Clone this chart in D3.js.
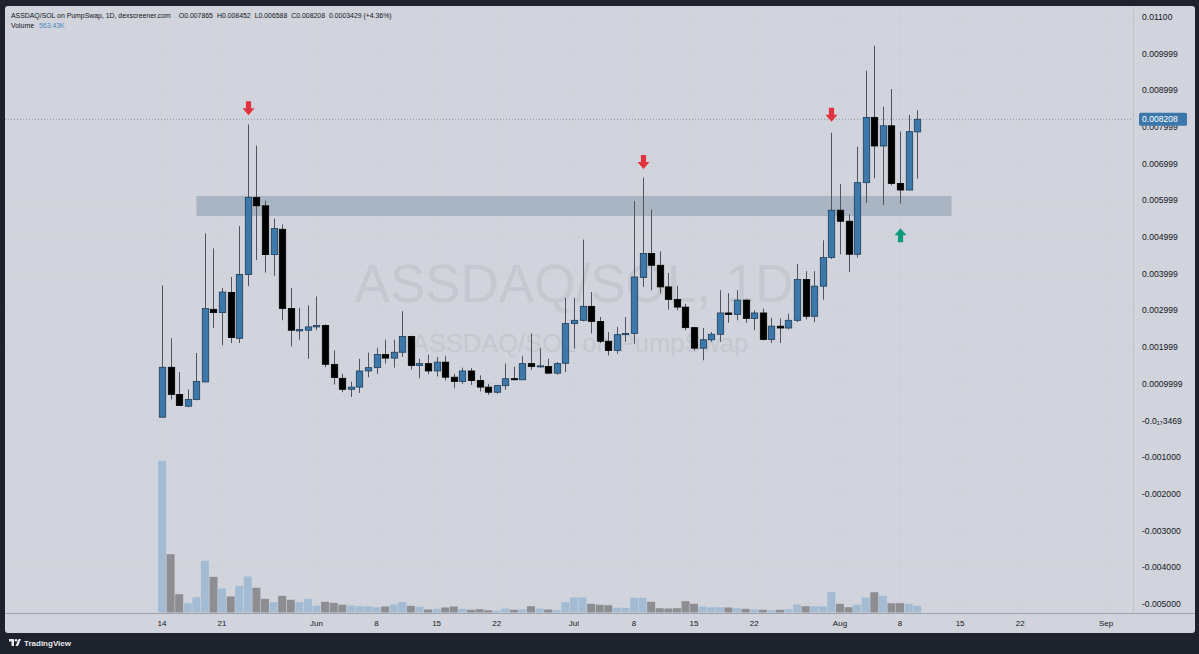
<!DOCTYPE html>
<html><head><meta charset="utf-8">
<script src="https://cdn.jsdelivr.net/npm/d3@7"></script>
<style>html,body{margin:0;padding:0;background:#1e222d;overflow:hidden}</style>
</head><body><svg id="c" width="1199" height="654"></svg>
<script>
const dates = [
"2025-05-14","2025-05-15","2025-05-16","2025-05-17","2025-05-18","2025-05-19","2025-05-20","2025-05-21","2025-05-22","2025-05-23","2025-05-24","2025-05-25","2025-05-26","2025-05-27","2025-05-28","2025-05-29","2025-05-30","2025-05-31",
"2025-06-01","2025-06-02","2025-06-03","2025-06-04","2025-06-05","2025-06-06","2025-06-07","2025-06-08","2025-06-09","2025-06-10","2025-06-11","2025-06-12","2025-06-13","2025-06-14","2025-06-15","2025-06-16","2025-06-17","2025-06-18","2025-06-19","2025-06-20","2025-06-21","2025-06-22","2025-06-23","2025-06-24","2025-06-25","2025-06-26","2025-06-27","2025-06-28","2025-06-29","2025-06-30",
"2025-07-01","2025-07-02","2025-07-03","2025-07-04","2025-07-05","2025-07-06","2025-07-07","2025-07-08","2025-07-09","2025-07-10","2025-07-11","2025-07-12","2025-07-13","2025-07-14","2025-07-15","2025-07-16","2025-07-17","2025-07-18","2025-07-19","2025-07-20","2025-07-21","2025-07-22","2025-07-23","2025-07-24","2025-07-25","2025-07-26","2025-07-27","2025-07-28","2025-07-29","2025-07-30","2025-07-31",
"2025-08-01","2025-08-02","2025-08-03","2025-08-04","2025-08-05","2025-08-06","2025-08-07","2025-08-08","2025-08-09","2025-08-10"];

const open = [
0.00009,0.00145,0.00071,0.00039,0.00057,0.00105,0.00303,0.00294,0.00349,0.00224,0.00398,0.00608,0.00585,0.00452,0.00521,0.00305,0.00244,0.00246,
0.00255,0.00259,0.00153,0.00115,0.00085,0.00091,0.00135,0.00144,0.00180,0.00170,0.00186,0.00229,0.00150,0.00155,0.00135,0.00159,0.00118,0.00106,0.00135,0.00109,0.00091,0.00077,0.00095,0.00114,0.00111,0.00155,0.00146,0.00147,0.00129,0.00156,
0.00264,0.00273,0.00311,0.00270,0.00216,0.00191,0.00234,0.00237,0.00390,0.00455,0.00423,0.00364,0.00330,0.00309,0.00253,0.00197,0.00220,0.00235,0.00293,0.00289,0.00328,0.00278,0.00293,0.00221,0.00257,0.00252,0.00273,0.00384,0.00284,0.00366,0.00444,
0.00573,0.00543,0.00453,0.00648,0.00826,0.00748,0.00803,0.00646,0.00628,0.007865];
const high = [
0.00368,0.00224,0.00132,0.00085,0.00184,0.00510,0.00469,0.00361,0.00391,0.00530,0.00807,0.00749,0.00599,0.00550,0.00534,0.00361,0.00307,0.00314,
0.00338,0.00262,0.00191,0.00127,0.00106,0.00168,0.00185,0.00197,0.00220,0.00220,0.00298,0.00231,0.00168,0.00179,0.00173,0.00175,0.00127,0.00144,0.00143,0.00123,0.00100,0.00097,0.00155,0.00147,0.00175,0.00237,0.00197,0.00168,0.00159,0.00334,
0.00334,0.00493,0.00350,0.00282,0.00241,0.00255,0.00282,0.00598,0.00662,0.00575,0.00461,0.00402,0.00367,0.00318,0.00255,0.00252,0.00241,0.00355,0.00347,0.00355,0.00330,0.00300,0.00305,0.00280,0.00278,0.00291,0.00426,0.00407,0.00407,0.00491,0.00784,
0.00644,0.00562,0.00746,0.00953,0.01021,0.00855,0.00903,0.00787,0.00833,0.008452];
const low = [
0.00008,0.00057,0.00040,0.00036,0.00055,0.00105,0.00252,0.00205,0.00211,0.00211,0.00366,0.00437,0.00403,0.00394,0.00273,0.00202,0.00220,0.00168,
0.00246,0.00145,0.00098,0.00077,0.00064,0.00075,0.00118,0.00127,0.00155,0.00144,0.00173,0.00139,0.00115,0.00126,0.00120,0.00109,0.00088,0.00100,0.00097,0.00079,0.00070,0.00073,0.00084,0.00109,0.00110,0.00138,0.00144,0.00127,0.00125,0.00132,
0.00196,0.00270,0.00237,0.00211,0.00177,0.00182,0.00214,0.00209,0.00364,0.00355,0.00346,0.00302,0.00300,0.00246,0.00191,0.00164,0.00214,0.00214,0.00266,0.00273,0.00266,0.00246,0.00218,0.00211,0.00211,0.00248,0.00268,0.00275,0.00268,0.00329,0.00440,
0.00453,0.00405,0.00444,0.00593,0.00660,0.00587,0.00641,0.00591,0.00628,0.006588];
const close = [
0.00145,0.00071,0.00041,0.00057,0.00106,0.00305,0.00294,0.00350,0.00226,0.00398,0.00608,0.00585,0.00452,0.00523,0.00305,0.00246,0.00248,0.00255,
0.00259,0.00153,0.00117,0.00085,0.00091,0.00135,0.00144,0.00180,0.00170,0.00186,0.00229,0.00150,0.00155,0.00135,0.00159,0.00118,0.00106,0.00135,0.00109,0.00091,0.00077,0.00095,0.00114,0.00111,0.00155,0.00147,0.00149,0.00129,0.00155,0.00264,
0.00273,0.00311,0.00270,0.00216,0.00191,0.00234,0.00237,0.00391,0.00455,0.00423,0.00364,0.00330,0.00309,0.00253,0.00197,0.00220,0.00235,0.00293,0.00289,0.00328,0.00278,0.00293,0.00221,0.00257,0.00252,0.00273,0.00384,0.00284,0.00366,0.00444,0.00573,
0.00543,0.00453,0.00648,0.00826,0.00748,0.00803,0.00646,0.00628,0.00787,0.008208];
// volume in thousands
const volume = [
12760,4900,1540,780,1290,4350,3000,2020,1350,2250,3030,2080,1150,870,1400,1070,870,1150,
563,900,815,650,590,530,530,445,505,673,870,563,480,252,311,420,505,311,227,278,193,143,336,227,278,530,336,252,193,870,
1260,1260,730,650,614,395,395,1236,1236,900,362,336,362,950,730,505,445,445,420,362,311,252,227,193,227,278,673,530,530,530,1707,
730,445,650,1260,1707,1404,782,782,730,563.43];

const priceTicks = [0.011,0.010,0.009,0.008,0.007,0.006,0.005,0.004,0.003,0.002,0.001,0,-0.001,-0.002,-0.003,-0.004,-0.005];
const priceTickLabels = ["0.01100","0.009999","0.008999","0.007999","0.006999","0.005999","0.004999","0.003999","0.002999","0.001999","0.0009999","-0.0\u2081\u20873469","-0.001000","-0.002000","-0.003000","-0.004000","-0.005000"];
const timeTicks = ["2025-05-14","2025-05-21","2025-06-01","2025-06-08","2025-06-15","2025-06-22","2025-07-01","2025-07-08","2025-07-15","2025-07-22","2025-08-01","2025-08-08","2025-08-15","2025-08-22","2025-09-01"];
const timeTickLabels = ["14","21","Jun","8","15","22","Jul","8","15","22","Aug","8","15","22","Sep"];
const zone = {start:"2025-05-18", end:"2025-08-14", low:0.00557, high:0.00612};
const arrows = [
  {date:"2025-05-24", price:0.00832, dir:"down"},
  {date:"2025-07-09", price:0.00685, dir:"down"},
  {date:"2025-07-31", price:0.00814, dir:"down"},
  {date:"2025-08-08", price:0.00524, dir:"up"}];
const headerParts = ["ASSDAQ/SOL on PumpSwap, 1D, dexscreener.com","O0.007865","H0.008452","L0.006588","C0.008208","0.0003429 (+4.36%)"];

const svg=d3.select("#c");
const P={l:5,t:6,r:1133,b:613};
const parse=d3.utcParse("%Y-%m-%d");
const x=d3.scaleUtc().domain([parse("2025-05-14"),parse("2025-09-01")]).range([162,1106]);
const y=d3.scaleLinear().domain([0,0.011]).range([420.5,16.8]);
const yv=d3.scaleLinear().domain([0,12760]).range([612.5,460.8]);
const data=dates.map((d,i)=>({d:parse(d),o:open[i],h:high[i],l:low[i],c:close[i],v:volume[i]}));

// pane
svg.append("rect").attr("x",5).attr("y",6).attr("width",1190).attr("height",627).attr("rx",3).attr("fill","#d1d4dc");
const defs=svg.append("defs");
defs.append("clipPath").attr("id","clip").append("rect").attr("x",P.l).attr("y",P.t).attr("width",P.r-P.l).attr("height",P.b-P.t);
const g=svg.append("g").attr("clip-path","url(#clip)");

// grid (very faint)
g.selectAll(".hg").data(priceTicks).join("line").attr("x1",P.l).attr("x2",P.r)
 .attr("y1",d=>y(d)).attr("y2",d=>y(d)).attr("stroke","#ced1d9").attr("stroke-width",1);
g.selectAll(".vg").data(timeTicks).join("line").attr("y1",P.t).attr("y2",P.b)
 .attr("x1",d=>x(parse(d))).attr("x2",d=>x(parse(d))).attr("stroke","#ced1d9").attr("stroke-width",1);

// watermark
g.append("text").attr("x",574).attr("y",302).attr("text-anchor","middle")
 .attr("font-family","Liberation Sans, Arial, sans-serif").attr("font-size",53).attr("fill","#c4c8d0").text("ASSDAQ/SOL, 1D");
g.append("text").attr("x",580).attr("y",352).attr("text-anchor","middle")
 .attr("font-family","Liberation Sans, Arial, sans-serif").attr("font-size",25.5).attr("fill","#c4c8d0").text("ASSDAQ/SOL on PumpSwap");

// zone
g.append("rect").attr("x",x(parse(zone.start))).attr("width",x(parse(zone.end))-x(parse(zone.start)))
 .attr("y",y(zone.high)).attr("height",y(zone.low)-y(zone.high)).attr("fill","#a9b5c3");

// volume
const bw=x(parse("2025-05-15"))-x(parse("2025-05-14"));
g.selectAll(".vol").data(data).join("rect")
 .attr("x",d=>x(d.d)-bw/2+0.3).attr("width",bw-0.6)
 .attr("y",d=>yv(d.v)).attr("height",d=>yv(0)-yv(d.v))
 .attr("fill",d=>d.c>=d.o?"#a3bcd3":"#8d8d92");

// last price line
g.append("line").attr("x1",P.l).attr("x2",P.r).attr("y1",y(close[close.length-1])).attr("y2",y(close[close.length-1]))
 .attr("stroke","#8e939c").attr("stroke-dasharray","1,2").attr("stroke-width",1);

// candles
const cw=6.4;
const cg=g.selectAll(".cd").data(data).join("g");
cg.append("line").attr("x1",d=>Math.round(x(d.d))+0.5).attr("x2",d=>Math.round(x(d.d))+0.5)
 .attr("y1",d=>y(d.h)).attr("y2",d=>y(d.l)).attr("stroke","#50545c").attr("stroke-width",1);
cg.append("rect").attr("x",d=>Math.round(x(d.d))+0.5-cw/2).attr("width",cw)
 .attr("y",d=>y(Math.max(d.o,d.c))).attr("height",d=>Math.max(1,Math.abs(y(d.o)-y(d.c))))
 .attr("fill",d=>d.c>=d.o?"#3c78a9":"#000000")
 .attr("stroke",d=>d.c>=d.o?"#1f3d5a":"#000000").attr("stroke-width",0.8);

// arrows
function arrowPath(cx,ty,dir){
  const s=dir==="down"?-1:1;
  const L=14,hh=7,hw=6,sw=2.6;
  return `M${cx},${ty} L${cx+hw},${ty+s*hh} L${cx+sw},${ty+s*hh} L${cx+sw},${ty+s*L} L${cx-sw},${ty+s*L} L${cx-sw},${ty+s*hh} L${cx-hw},${ty+s*hh} Z`;
}
g.selectAll(".ar").data(arrows).join("path")
 .attr("d",d=>arrowPath(Math.round(x(parse(d.date)))+0.5,y(d.price),d.dir))
 .attr("fill",d=>d.dir==="down"?"#e3323f":"#0a9b7f");

// separators
svg.append("line").attr("x1",P.l).attr("x2",1195).attr("y1",P.b+0.5).attr("y2",P.b+0.5).attr("stroke","#9ea2ab").attr("stroke-width",1);
svg.append("line").attr("x1",P.r+0.5).attr("x2",P.r+0.5).attr("y1",P.t).attr("y2",P.b).attr("stroke","#c0c3ca").attr("stroke-width",1);

// right axis labels
const axf="Liberation Sans, Arial, sans-serif";
svg.selectAll(".pl").data(priceTicks).join("text")
 .attr("x",1142).attr("y",d=>y(d)).attr("dy","0.35em").attr("font-family",axf).attr("font-size",8.6)
 .attr("fill","#131722").text((d,i)=>priceTickLabels[i]);

// last price label
const ly=y(close[close.length-1]);
svg.append("rect").attr("x",1139).attr("y",ly-6.5).attr("width",48).attr("height",13).attr("rx",1.5).attr("fill","#3b77ab");
svg.append("text").attr("x",1142).attr("y",ly).attr("dy","0.35em").attr("font-family",axf).attr("font-size",8.6)
 .attr("fill","#ffffff").text(close[close.length-1].toFixed(6));

// time axis labels
svg.selectAll(".tl").data(timeTicks).join("text")
 .attr("x",d=>x(parse(d))).attr("y",626).attr("text-anchor","middle").attr("font-family",axf).attr("font-size",8)
 .attr("fill","#131722").text((d,i)=>timeTickLabels[i]);

// header (laid out sequentially)
let hx=11;
headerParts.forEach((t,i)=>{
  const el=svg.append("text").attr("x",hx).attr("y",17.5).attr("font-family",axf).attr("font-size",6.9)
    .attr("fill","#131722").text(t);
  hx+=el.node().getComputedTextLength()+(i===0?8:4);
});
svg.append("text").attr("x",11).attr("y",28).attr("font-family",axf).attr("font-size",6.9).attr("fill","#131722").text("Volume");
svg.append("text").attr("x",39).attr("y",28).attr("font-family",axf).attr("font-size",6.9).attr("fill","#4a87c0")
 .text(d3.format(".2f")(volume[volume.length-1])+"K");

// TradingView logo
const lg=svg.append("g").attr("transform","translate(9,639)").attr("fill","#e8e9ec");
lg.append("path").attr("d","M0,0 H5 V7 H2.5 V2.5 H0 Z");
lg.append("circle").attr("cx",7).attr("cy",1.3).attr("r",1.3);
lg.append("path").attr("d","M9.5,0 H12 L9,7 H6.5 Z");
svg.append("text").attr("x",24).attr("y",646).attr("font-family",axf).attr("font-size",8).attr("font-weight","bold")
 .attr("fill","#e8e9ec").text("TradingView");
</script></body></html>
